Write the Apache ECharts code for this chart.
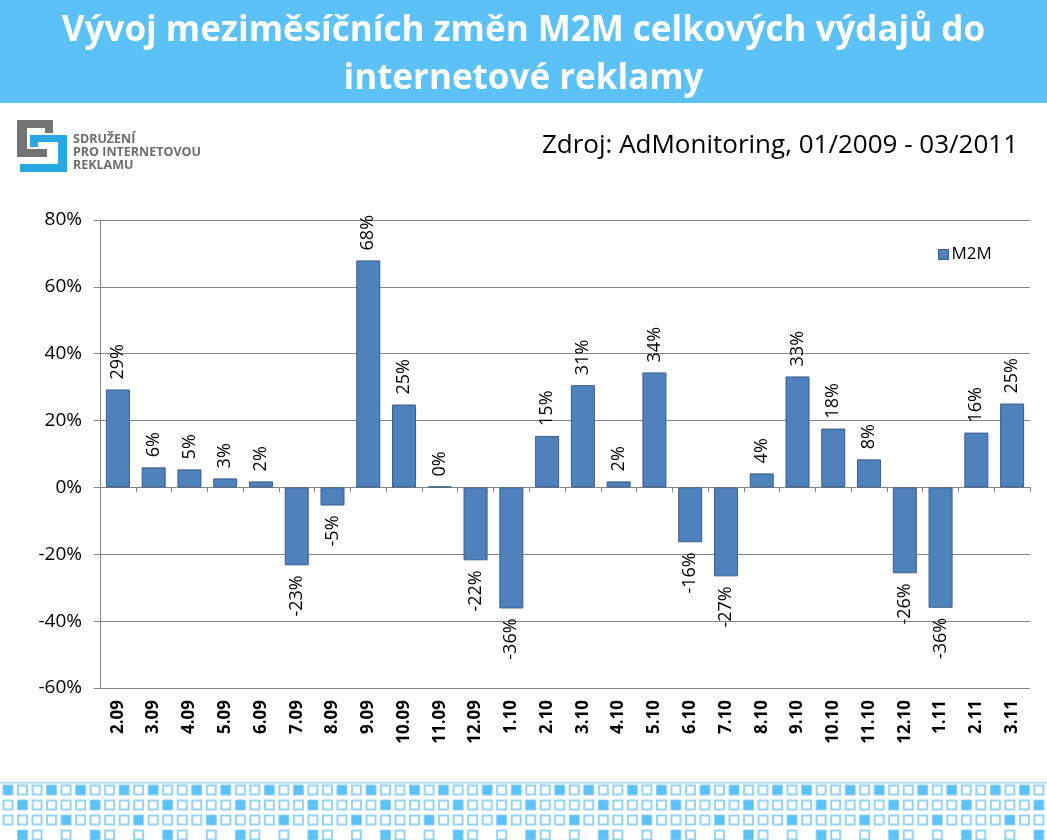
<!DOCTYPE html>
<html>
<head>
<meta charset="utf-8">
<title>M2M</title>
<script src="https://cdn.jsdelivr.net/npm/echarts@6.0.0/dist/echarts.min.js"></script>
<style>
  html, body { margin: 0; padding: 0; background: #fff; }
  #chart { width: 1047px; height: 840px; }
</style>
</head>
<body>
<div id="chart"></div>
<script>
// mesice (kategorie)
var months = ['2.09', '3.09', '4.09', '5.09', '6.09', '7.09', '8.09', '9.09', '10.09', '11.09', '12.09', '1.10',
  '2.10', '3.10', '4.10', '5.10', '6.10', '7.10', '8.10', '9.10', '10.10', '11.10', '12.10', '1.11', '2.11', '3.11'];
// mezimesicni zmena v %
var m2m = [29.3, 6.0, 5.4, 2.7, 1.8, -23.3, -5.4, 67.9, 24.8, 0.3, -21.8, -36.2,
  15.4, 30.6, 1.8, 34.4, -16.4, -26.6, 4.2, 33.2, 17.6, 8.4, -25.7, -36.0, 16.4, 25.1];
var yTicks = { min: -60, max: 80, step: 20 };

var titleLines = ['Vývoj meziměsíčních změn M2M celkových výdajů do', 'internetové reklamy'];
var sourceText = 'Zdroj: AdMonitoring, 01/2009 - 03/2011';
var logoLines = ['SDRUŽENÍ', 'PRO INTERNETOVOU', 'REKLAMU'];

var FONT = '"Open Sans", "Noto Sans", sans-serif';
var chart = echarts.init(document.getElementById('chart'));

// body data - popisek nad / pod sloupcem
var barData = m2m.map(function (v) {
  var neg = v < 0;
  return {
    value: v,
    label: {
      position: neg ? 'bottom' : 'top',
      align: neg ? 'right' : 'left'
    }
  };
});

// dekorace - ctverecky dole
var pattern = [];
var rows = [
  { y: 790, full: [0, 3], empty: [1, 2, 4] },
  { y: 805, full: [1], empty: [0, 2, 3, 4] },
  { y: 820, full: [4], empty: [0, 1, 2, 3] },
  { y: 835, full: [1], empty: [2, 4] }
];
pattern.push({
  type: 'rect', shape: { x: 0, y: 782, width: 1047, height: 1.5 },
  style: { fill: '#a9d8f2' }, silent: true
});
rows.forEach(function (r) {
  for (var c = 0; c < 73; c++) {
    var k = c % 5, cx = 8 + c * 14.52;
    if (r.full.indexOf(k) >= 0) {
      pattern.push({
        type: 'rect', shape: { x: cx - 5, y: r.y - 5, width: 10, height: 10 },
        style: { fill: '#5bc1f7', stroke: '#8fd2f7', lineWidth: 1 }, silent: true
      });
    } else if (r.empty.indexOf(k) >= 0) {
      pattern.push({
        type: 'rect', shape: { x: cx - 4.5, y: r.y - 4.5, width: 9, height: 9 },
        style: { fill: '#fff', stroke: '#95d3f5', lineWidth: 2 }, silent: true
      });
    }
  }
});

var logo = [
  // sede C
  { type: 'rect', shape: { x: 17, y: 120, width: 36, height: 8 }, style: { fill: '#737373' } },
  { type: 'rect', shape: { x: 17, y: 120, width: 10, height: 37 }, style: { fill: '#737373' } },
  { type: 'rect', shape: { x: 45, y: 120, width: 8, height: 13 }, style: { fill: '#737373' } },
  { type: 'rect', shape: { x: 17, y: 149, width: 30, height: 8 }, style: { fill: '#737373' } },
  // modre S
  { type: 'rect', shape: { x: 30, y: 135, width: 37, height: 7 }, style: { fill: '#29a8e6' } },
  { type: 'rect', shape: { x: 30, y: 135, width: 8, height: 12 }, style: { fill: '#29a8e6' } },
  { type: 'rect', shape: { x: 58, y: 135, width: 9, height: 37 }, style: { fill: '#29a8e6' } },
  { type: 'rect', shape: { x: 20, y: 164, width: 47, height: 8 }, style: { fill: '#29a8e6' } }
];
logoLines.forEach(function (t, i) {
  logo.push({
    type: 'text', left: 73, top: 133 + i * 13,
    style: { text: t, fill: '#6d6d6d', font: 'bold 12.5px ' + FONT }
  });
});

var header = [
  { type: 'rect', shape: { x: 0, y: 0, width: 1047, height: 103 }, style: { fill: '#5bc1f7' }, silent: true }
];
titleLines.forEach(function (t, i) {
  header.push({
    type: 'text', left: 'center', top: 14 + i * 48,
    style: { text: t, fill: '#fff', font: 'bold 35px ' + FONT }
  });
});
header.push({
  type: 'text', right: 29, top: 133,
  style: { text: sourceText, fill: '#000', font: '26px ' + FONT }
});

chart.setOption({
  animation: false,
  backgroundColor: '#fff',
  graphic: header.concat(logo).concat(pattern),
  legend: {
    left: 933, top: 241,
    itemWidth: 10, itemHeight: 10, itemGap: 4,
    icon: 'rect',
    textStyle: { fontFamily: FONT, fontSize: 17, color: '#000', padding: [0, 0, 0, -2] },
    data: [{ name: 'M2M', itemStyle: { color: '#4f81bd', borderColor: '#385d8a', borderWidth: 1 } }]
  },
  grid: { left: 100, right: 17, top: 220, bottom: 152 },
  xAxis: [
    {
      type: 'category', data: months, position: 'bottom',
      axisLine: { onZero: true, lineStyle: { color: '#868686' } },
      axisTick: { show: true, length: 5, interval: 0, lineStyle: { color: '#868686' } },
      axisLabel: { show: false }
    },
    {
      type: 'category', data: months, position: 'bottom',
      axisLine: { show: false, onZero: false },
      axisTick: { show: false },
      axisLabel: {
        interval: 0, rotate: 90, margin: 12,
        fontFamily: FONT, fontWeight: 'bold', fontSize: 17, color: '#000'
      }
    }
  ],
  yAxis: {
    type: 'value', min: yTicks.min, max: yTicks.max, interval: yTicks.step,
    axisLine: { show: true, lineStyle: { color: '#868686' } },
    axisTick: { show: true, length: 6, lineStyle: { color: '#868686' } },
    splitLine: { lineStyle: { color: '#868686', width: 1 } },
    axisLabel: { formatter: '{value}%', fontFamily: FONT, fontSize: 19, color: '#000', margin: 18 }
  },
  series: [{
    name: 'M2M', type: 'bar', xAxisIndex: 0,
    barWidth: 24,
    data: barData,
    itemStyle: { color: '#4f81bd', borderColor: '#385d8a', borderWidth: 1 },
    label: {
      show: true, rotate: 90, distance: 10, verticalAlign: 'middle',
      fontFamily: FONT, fontSize: 18, color: '#000',
      formatter: function (p) { return Math.round(p.value) + '%'; }
    }
  }]
});
</script>
</body>
</html>
